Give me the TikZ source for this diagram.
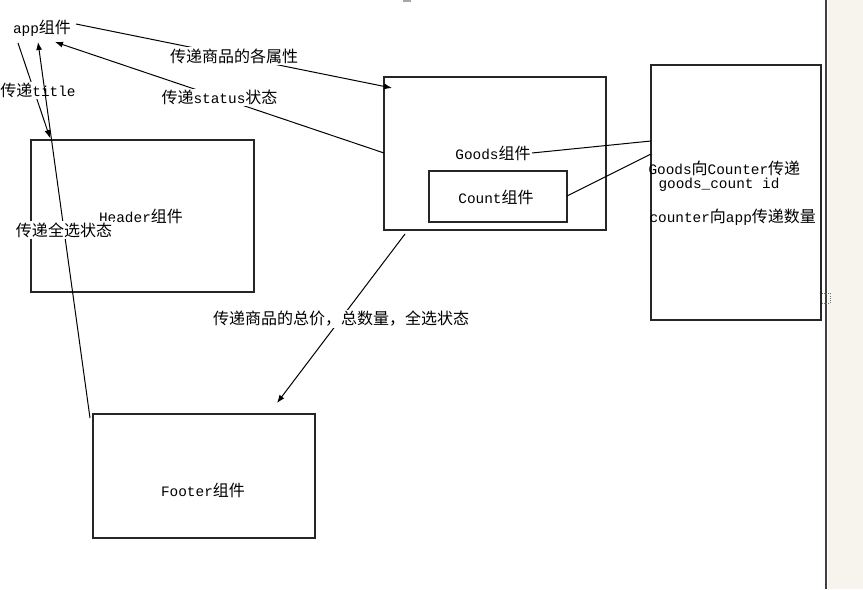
\documentclass[tikz,border=0pt]{standalone}
\usepackage{fontspec}
\setmainfont{Liberation Mono}[Scale=0.9]
\newfontfamily\cjk{Noto Sans CJK SC}
\newcommand\zh[1]{{\cjk #1}}
\usetikzlibrary{arrows.meta,fit}
\definecolor{panel}{HTML}{F7F4EE}
\begin{document}
\begin{tikzpicture}[x=0.75pt,y=-0.75pt,line width=0.75pt,
  box/.style={draw=black!85,line width=0.9pt,inner sep=0pt},
  txt/.style={inner sep=0pt,font=\fontsize{12}{14}\selectfont},
  lbl/.style={fill=white,inner sep=1pt,font=\fontsize{12}{14}\selectfont},
  arr/.style={-{Latex[length=6pt,width=4.5pt]}},
  ln/.style={draw=black}]
\useasboundingbox (0,0) rectangle (863,589);
\fill[white] (0,0) rectangle (863,589);
\fill[panel] (828,0) rectangle (863,589);
\draw[black!75,line width=1.2pt] (826,0) -- (826,589);
\fill[black!35] (403,0) rectangle (411,2);
\draw[black!55,densely dotted,line width=0.6pt] (821,293) rectangle (830,303);

% boxes
\node[box,fit={(384,77) (606,230)}] (goods) {};
\node[box,fit={(429,171) (567,222)}] (count) {};
\node[box,fit={(651,65) (821,320)}] (counter) {};
\node[box,fit={(31,140) (254,292)}] (header) {};
\node[box,fit={(93,414) (315,538)}] (footer) {};

% texts
\node[txt] (app) at (42,28) {app\zh{组件}};
\node[txt] (headert) at (141,216) {Header\zh{组件}};
\node[txt] (footert) at (203,490) {Footer\zh{组件}};
\node[txt] (goodst) at (493,153) {Goods\zh{组件}};
\node[txt] (countt) at (496,197) {Count\zh{组件}};
\node[txt,anchor=west] (ct1) at (648,168) {Goods\zh{向}Counter\zh{传递}};
\node[txt,anchor=west] (ct2) at (658,185) {goods\_count id};
\node[txt,anchor=west] (ct3) at (649,217) {counter\zh{向}app\zh{传递数量}};

% connector end points
\coordinate (a1) at (76,24);
\coordinate (g1) at (392,88);
\coordinate (g2) at (384,153);
\coordinate (a2) at (55,42);
\coordinate (a3) at (18,43);
\coordinate (h1) at (50,138);
\coordinate (f1) at (90,418);
\coordinate (a4) at (38,42);
\coordinate (g3) at (405,234);
\coordinate (f2) at (277,403);
\coordinate (gt) at (532,153);
\coordinate (c1) at (651,141);
\coordinate (ce) at (567,196);
\coordinate (c2) at (651,154);

% connectors
\draw[arr] (a1) -- node[lbl] {\zh{传递商品的各属性}} (g1);
\draw[arr] (g2) -- node[lbl] {\zh{传递}status\zh{状态}} (a2);
\draw[arr] (a3) -- node[lbl,xshift=3pt] {\zh{传递}title} (h1);
\draw[arr] (f1) -- node[lbl] {\zh{传递全选状态}} (a4);
\draw[arr] (g3) -- node[lbl] {\zh{传递商品的总价，总数量，全选状态}} (f2);
\draw (gt) -- (c1);
\draw (ce) -- (c2);
\end{tikzpicture}
\end{document}
